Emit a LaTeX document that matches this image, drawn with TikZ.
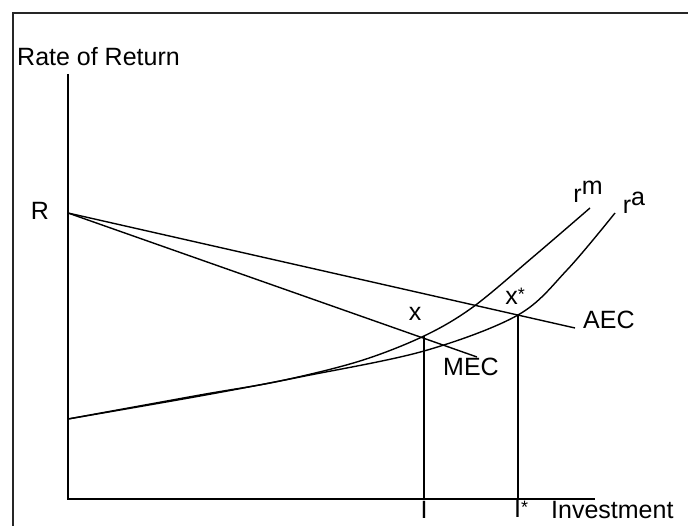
\documentclass[tikz,border=0pt]{standalone}
\usepackage{fontspec}
\setmainfont{Liberation Sans}
\begin{document}
\begin{tikzpicture}[x=1pt,y=-1pt,
  lbl/.style={inner sep=0pt,font=\fontsize{25}{29}\selectfont},
  axis/.style={line width=2pt},
  curve/.style={line width=1.4pt},
  frameline/.style={line width=2.5pt,draw=black!85}]
\useasboundingbox (0,0) rectangle (688,526);
\draw[frameline] (13,526) -- (13,13) -- (688,13);
% axes
\coordinate (O) at (68,499);
\coordinate (Ytop) at (68,74);
\coordinate (Xend) at (595,499);
\draw[axis] (Ytop) -- (O) -- (Xend);
% points
\coordinate (R) at (68,213);
\coordinate (S) at (68,419);
\coordinate (X) at (424,336);
\coordinate (Xs) at (518,316);
\coordinate (MECend) at (477,357);
\coordinate (AECend) at (575,328);
\coordinate (Ib) at (424,499);
\coordinate (Isb) at (518,499);
% demand lines
\draw[curve] (R) -- (MECend);
\draw[curve] (R) -- (AECend);
% cost curves
\draw[curve] plot[smooth,tension=0.55] coordinates {(68,419) (200,395) (280,381) (360,361) (424,336) (473,307) (533,257) (590,208)};
\draw[curve] plot[smooth,tension=0.55] coordinates {(68,419) (200,396) (300,377) (424,351) (518,315) (567,270) (615,213)};
% verticals
\draw[axis] (X) -- (Ib);
\draw[axis] (Xs) -- (Isb);
% labels
\node[lbl,anchor=west] (rr) at (17,57) {Rate of Return};
\node[lbl] (Rl) at (40,211) {R};
\node[lbl] (xl) at (415,314) {x};
\node[lbl] (xsl) at (515,296) {x\raisebox{0.3ex}{\fontsize{18}{20}\selectfont *}};
\node[lbl] (mec) at (471,367) {MEC};
\node[lbl,anchor=west] (aec) at (583,320) {AEC};
\node[lbl] (rm) at (588,192) {r\raisebox{0.6ex}{m}};
\node[lbl] (ra) at (634,203) {r\raisebox{0.6ex}{a}};
\node[lbl,anchor=south] (Il) at (424,519) {I};
\node[lbl,anchor=west] (Isl) at (514,509) {I\raisebox{0.3ex}{\fontsize{18}{20}\selectfont *}};
\node[lbl,anchor=west] (inv) at (551,510) {Investment};
\end{tikzpicture}
\end{document}
